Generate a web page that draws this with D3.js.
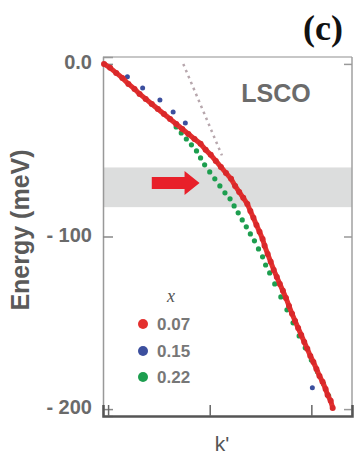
<!DOCTYPE html>
<html><head><meta charset="utf-8">
<script src="https://cdn.jsdelivr.net/npm/d3@7"></script>
<style>html,body{margin:0;padding:0;background:#fff;}svg{display:block;}</style>
</head><body>
<script>
// ---- data ----
const redK = [-4,2,8,14,20,26,31,37,43,49,55,61,67,73,79,85,91,96,101,106,111,116,121,125,129,133,137,140,143,146,149,152,154,157,160,163,166,169,172,175,178,181,184,187,190,193,196,199,202,205,208,211,214,216,219,221];
const redE = [0,-2.3,-5.2,-8.1,-11.6,-14.5,-17.4,-20.3,-23.2,-26.1,-29,-31.9,-34.8,-37.7,-40.6,-43.5,-46.3,-49.8,-52.7,-56.2,-59.7,-63.2,-66.6,-70.7,-74.2,-77.6,-81.1,-85.2,-89.2,-93.3,-97.3,-101.4,-105.4,-110.1,-114.7,-119.4,-123.4,-127.5,-131.5,-135.6,-140.2,-144.8,-148.9,-153,-157,-161.1,-165.1,-169.2,-172.7,-176.7,-180.8,-184.2,-188.3,-191.8,-195.2,-199.3];
const greenK = [67,72,77,82,87,91,95,100,105,110,115,120,124,128,132,136,140,144,148,152,155,159,164,170,176,182,188,194,200,206,212,217];
const greenE = [-36.5,-40,-43.5,-46.9,-50.4,-54.5,-58.5,-62.6,-66.6,-70.7,-74.7,-78.2,-82.3,-86.3,-90.4,-94.4,-98.5,-102.5,-107.2,-111.8,-116.5,-121.1,-127.5,-135,-142.5,-150,-157.6,-164.5,-171.5,-178.4,-185.4,-192.3];
const blueK = [19,34,51,64,76,201];
const blueE = [-7.5,-13.9,-20.9,-27.8,-34.2,-187.7];
const bareK = [74,112];        // dotted bare-band line
const bareE = [0,-53];
const bandE = [-60,-83];       // kink energy window
const arrowK = [43,90];
const arrowE = -69;
const yTicks = [0,-100,-200];
const yTickLabels = ["0.0","- 100","- 200"];
const xTicks = [0,100,200];
const legendX = ["0.07","0.15","0.22"];
const colors = ["#e4302e","#3c4f9e","#1d9e4f"];

// ---- layout ----
const W=355,H=456;
const svg=d3.select("body").append("svg").attr("width",W).attr("height",H);
const x=d3.scaleLinear().domain([-5,240]).range([103,352]);
const y=d3.scaleLinear().domain([-204,4]).range([416,57]);
const font="Liberation Sans, Arial, sans-serif";

// band
svg.append("rect").attr("x",x(-5)).attr("width",x(240)-x(-5))
  .attr("y",y(bandE[0])).attr("height",y(bandE[1])-y(bandE[0])).attr("fill","#dcdddd");

// frame
svg.append("line").attr("x1",x(-5)).attr("x2",x(240)).attr("y1",y(4)).attr("y2",y(4)).attr("stroke","#b5b5b5").attr("stroke-width",1.5);
svg.append("line").attr("x1",x(240)).attr("x2",x(240)).attr("y1",y(4)).attr("y2",y(-204)).attr("stroke","#a0a0a0").attr("stroke-width",1.5);

// axes
const yAx=svg.append("g").attr("transform",`translate(${x(-5)},0)`)
  .call(d3.axisRight(y).tickValues(yTicks).tickSize(10).tickFormat(""));
yAx.select(".domain").attr("stroke","#999").attr("stroke-width",1.5);
yAx.selectAll(".tick line").attr("stroke","#888").attr("stroke-width",1.5);
const yAxR=svg.append("g").attr("transform",`translate(${x(240)},0)`)
  .call(d3.axisLeft(y).tickValues(yTicks).tickSize(8).tickFormat(""));
yAxR.select(".domain").remove();
yAxR.selectAll(".tick line").attr("stroke","#999").attr("stroke-width",1.5);
svg.selectAll(".ylab").data(yTicks).enter().append("text")
  .attr("x",92).attr("y",d=>y(d)+5).attr("text-anchor","end")
  .attr("font-family",font).attr("font-weight","bold").attr("font-size",20).attr("fill","#6a6a6a")
  .text((d,i)=>yTickLabels[i]);
const xAx=svg.append("g").attr("transform",`translate(0,${y(-204)})`)
  .call(d3.axisTop(x).tickValues(xTicks).tickSize(11).tickFormat(""));
xAx.select(".domain").attr("stroke","#555").attr("stroke-width",2.5);
xAx.selectAll(".tick line").attr("stroke","#666").attr("stroke-width",1.5);

// dotted line
svg.append("line").attr("x1",x(bareK[0])).attr("y1",y(bareE[0])).attr("x2",x(bareK[1])).attr("y2",y(bareE[1]))
  .attr("stroke","#b7a7ad").attr("stroke-width",2.5).attr("stroke-dasharray","2.5,4");

// series
const mk=(K,E)=>K.map((k,i)=>[k,E[i]]);
svg.append("g").selectAll("circle").data(mk(greenK,greenE)).enter().append("circle")
  .attr("cx",d=>x(d[0])).attr("cy",d=>y(d[1])).attr("r",2.6).attr("fill",colors[2]);
svg.append("g").selectAll("circle").data(mk(blueK,blueE)).enter().append("circle")
  .attr("cx",d=>x(d[0])).attr("cy",d=>y(d[1])).attr("r",2.5).attr("fill",colors[1]);
svg.append("path").datum(mk(redK,redE))
  .attr("d",d3.line().x(d=>x(d[0])).y(d=>y(d[1])))
  .attr("fill","none").attr("stroke",colors[0]).attr("stroke-width",5).attr("stroke-linejoin","round");
svg.append("g").selectAll("circle").data(mk(redK,redE)).enter().append("circle")
  .attr("cx",d=>x(d[0])).attr("cy",d=>y(d[1])).attr("r",3).attr("fill","#d9282a");

// arrow
const ax0=x(arrowK[0]),ax1=x(arrowK[1]),ay=y(arrowE);
svg.append("path").attr("d",`M${ax0},${ay-6}L${ax1-15},${ay-6}L${ax1-15},${ay-12}L${ax1},${ay}L${ax1-15},${ay+12}L${ax1-15},${ay+6}L${ax0},${ay+6}Z`)
  .attr("fill","#e8202a");

// texts
svg.append("text").attr("x",323).attr("y",40).attr("text-anchor","middle")
  .attr("font-family","Liberation Serif, Times New Roman, serif").attr("font-weight","bold")
  .attr("font-size",36).attr("fill","#111").text("(c)");
svg.append("text").attr("x",276).attr("y",102).attr("text-anchor","middle")
  .attr("font-family",font).attr("font-weight","bold").attr("font-size",25).attr("fill","#6b6b6b").text("LSCO");
svg.append("text").attr("transform",`translate(29,230) rotate(-90)`).attr("text-anchor","middle")
  .attr("font-family",font).attr("font-weight","bold").attr("font-size",25).attr("fill","#5a5a5a").text("Energy (meV)");
svg.append("text").attr("x",222).attr("y",451).attr("text-anchor","middle")
  .attr("font-family",font).attr("font-size",21).attr("fill","#555").text("k'");

// legend
svg.append("text").attr("x",171).attr("y",302).attr("text-anchor","middle")
  .attr("font-family","Liberation Serif, Times New Roman, serif").attr("font-style","italic")
  .attr("font-size",18).attr("fill","#555").text("x");
const legY=[324,351,377];
legendX.forEach((t,i)=>{
  svg.append("circle").attr("cx",143).attr("cy",legY[i]).attr("r",5).attr("fill",colors[i]);
  svg.append("text").attr("x",157).attr("y",legY[i]+6).attr("font-family",font).attr("font-weight","bold")
    .attr("font-size",17).attr("fill","#777").text(t);
});
</script>
</body></html>
